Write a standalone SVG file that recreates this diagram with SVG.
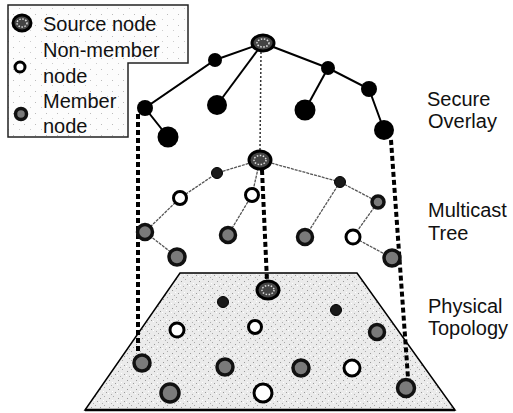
<svg xmlns="http://www.w3.org/2000/svg" width="513" height="413" viewBox="0 0 513 413">
<defs>
<pattern id="speck" width="9" height="9" patternUnits="userSpaceOnUse">
<rect width="9" height="9" fill="#ebebeb"/>
<rect x="1" y="2" width="1" height="1" fill="#999"/>
<rect x="5" y="0" width="1" height="1" fill="#aaa"/>
<rect x="7" y="5" width="1" height="1" fill="#999"/>
<rect x="3" y="7" width="1" height="1" fill="#b0b0b0"/>
<rect x="4" y="4" width="1" height="1" fill="#fff"/>
<rect x="0" y="6" width="1" height="1" fill="#fff"/>
</pattern>
<pattern id="lspeck" width="11" height="11" patternUnits="userSpaceOnUse">
<rect width="11" height="11" fill="#fcfcfc"/>
<rect x="2" y="3" width="1" height="1" fill="#bbb"/>
<rect x="8" y="8" width="1" height="1" fill="#ccc"/>
</pattern>
</defs>
<style>
text{font-family:"Liberation Sans",Arial,sans-serif;font-size:20px;fill:#111}
.ov{stroke:#000;stroke-width:2;fill:none}
.mc{stroke:#555;stroke-width:1.3;fill:none;stroke-dasharray:3 1}
.vd{stroke:#000;stroke-width:4;fill:none;stroke-dasharray:5 3}
.vf{stroke:#333;stroke-width:1.5;fill:none;stroke-dasharray:2 2}
.blk{fill:#000}
.sm{fill:#1a1a1a;stroke:#000;stroke-width:1}
.mem{fill:#7a7a7a;stroke:#111;stroke-width:3.5}
.non{fill:#fff;stroke:#000;stroke-width:3}
.src{fill:#444;stroke:#000;stroke-width:3}
.srci{fill:none;stroke:#ddd;stroke-width:1.5;stroke-dasharray:1.5 1.5}
</style>

<g id="physical-plane">
<polygon points="180,273 357,273 455,410 85,410" fill="url(#speck)" stroke="#000" stroke-width="1.5"/>
<line x1="85" y1="410" x2="455" y2="410" stroke="#000" stroke-width="2.5"/>
</g>

<g id="legend">
<path d="M8,5 H188 V63 H128 V137 H8 Z" fill="url(#lspeck)" stroke="#222" stroke-width="1.5"/>
<ellipse cx="22" cy="23" rx="9" ry="8" class="src"/>
<ellipse cx="22" cy="23" rx="5" ry="4" class="srci"/>
<circle cx="20" cy="67" r="5" class="non"/>
<circle cx="21" cy="114" r="5.5" class="mem"/>
<text x="43" y="31">Source node</text>
<text x="43" y="57">Non-member</text>
<text x="43" y="83">node</text>
<text x="43" y="108">Member</text>
<text x="43" y="133">node</text>
</g>

<g id="connectors">
<line class="vf" x1="261" y1="52" x2="260" y2="151"/>
<line class="vd" x1="262" y1="170" x2="267" y2="281"/>
<line class="vd" x1="138" y1="114" x2="138" y2="352"/>
<line class="vd" x1="391" y1="140" x2="408" y2="378"/>
<polyline class="ov" points="263,43 215,60 145,108 168,137"/>
<line class="ov" x1="263" y1="43" x2="217" y2="105"/>
<polyline class="ov" points="263,43 328,68 369,89 384,130"/>
<line class="ov" x1="328" y1="68" x2="305" y2="110"/>
<polyline class="mc" points="260,160 217,173 180,198 145,232 177,257"/>
<polyline class="mc" points="260,160 252,195 228,235"/>
<polyline class="mc" points="260,160 340,182 378,202 353,237 392,258"/>
<line class="mc" x1="340" y1="182" x2="305" y2="237"/>
</g>

<g id="overlay-nodes">
<g id="o-src"><ellipse cx="263" cy="43" rx="11" ry="8" class="src"/><ellipse cx="263" cy="43" rx="6" ry="4" class="srci"/></g>
<circle id="o-a" cx="215" cy="60" r="7" class="blk"/>
<circle id="o-b" cx="145" cy="108" r="8" class="blk"/>
<circle id="o-c" cx="168" cy="137" r="10.5" class="blk"/>
<circle id="o-d" cx="217" cy="105" r="10" class="blk"/>
<circle id="o-e" cx="305" cy="110" r="10.5" class="blk"/>
<circle id="o-f" cx="328" cy="68" r="7" class="blk"/>
<circle id="o-g" cx="369" cy="89" r="8" class="blk"/>
<circle id="o-h" cx="384" cy="130" r="10" class="blk"/>
</g>

<g id="multicast-nodes">
<g id="m-src"><ellipse cx="260" cy="160" rx="11" ry="9" class="src"/><ellipse cx="260" cy="160" rx="6" ry="4.5" class="srci"/></g>
<circle id="m1" cx="217" cy="173" r="5.5" class="sm"/>
<circle id="m2" cx="180" cy="198" r="6.5" class="non"/>
<circle id="m3" cx="145" cy="232" r="7.5" class="mem"/>
<circle id="m4" cx="177" cy="257" r="8" class="mem"/>
<circle id="m5" cx="252" cy="195" r="6.5" class="non"/>
<circle id="m6" cx="228" cy="235" r="7.5" class="mem"/>
<circle id="m7" cx="340" cy="182" r="5.5" class="sm"/>
<circle id="m8" cx="378" cy="202" r="6" class="mem"/>
<circle id="m9" cx="305" cy="237" r="7.5" class="mem"/>
<circle id="m10" cx="353" cy="237" r="7" class="non"/>
<circle id="m11" cx="392" cy="258" r="8" class="mem"/>
</g>

<g id="physical-nodes">
<g id="p-src"><ellipse cx="268" cy="290" rx="11" ry="9" class="src"/><ellipse cx="268" cy="290" rx="6" ry="4.5" class="srci"/></g>
<circle id="p1" cx="223" cy="302" r="5.5" class="sm"/>
<circle id="p2" cx="177" cy="330" r="7" class="non"/>
<circle id="p3" cx="255" cy="327" r="6.5" class="non"/>
<circle id="p4" cx="142" cy="363" r="8" class="mem"/>
<circle id="p5" cx="225" cy="367" r="8" class="mem"/>
<circle id="p6" cx="301" cy="368" r="8" class="mem"/>
<circle id="p7" cx="170" cy="393" r="9" class="mem"/>
<circle id="p8" cx="263" cy="393" r="9" class="non"/>
<circle id="p9" cx="336" cy="310" r="5.5" class="sm"/>
<circle id="p10" cx="377" cy="332" r="7.5" class="mem"/>
<circle id="p11" cx="352" cy="368" r="8" class="non"/>
<circle id="p12" cx="406" cy="388" r="8.5" class="mem"/>
</g>

<g id="labels">
<text x="427" y="106">Secure</text>
<text x="428" y="128">Overlay</text>
<text x="428" y="217">Multicast</text>
<text x="428" y="240">Tree</text>
<text x="428" y="313">Physical</text>
<text x="428" y="335">Topology</text>
</g>
</svg>
